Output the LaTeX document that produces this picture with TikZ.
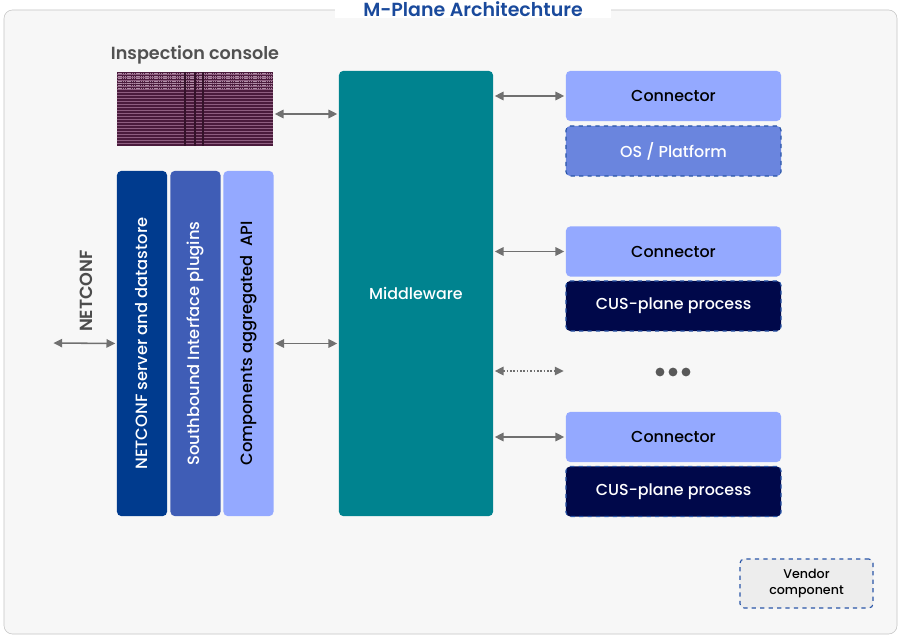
\documentclass[tikz,border=0pt]{standalone}
\usepackage{fontspec}
\setmainfont{Poppins}[UprightFont=* Medium, BoldFont=* SemiBold]
\usetikzlibrary{arrows.meta, positioning, calc}
\definecolor{framegris}{HTML}{F7F7F7}
\definecolor{bordagris}{HTML}{C4C4C4}
\definecolor{titazul}{HTML}{1A4A9C}
\definecolor{ncazul}{HTML}{003B8E}
\definecolor{sbazul}{HTML}{3F5DB6}
\definecolor{clazul}{HTML}{94A9FF}
\definecolor{osazul}{HTML}{6A85DE}
\definecolor{marinho}{HTML}{00084A}
\definecolor{petroleo}{HTML}{00838F}
\definecolor{setagris}{HTML}{707070}
\definecolor{tracoazul}{HTML}{2A56A8}
\definecolor{consroxo}{HTML}{4A1B3C}
\definecolor{linharoxo}{HTML}{8E5E80}

\begin{document}
\begin{tikzpicture}[
    x=0.025cm, y=-0.025cm,
    font=\fontsize{11.3}{13}\selectfont,
    bar/.style={rounded corners=3pt, minimum width=8.625cm, minimum height=1.25cm, text=white, rotate=90, font=\fontsize{11.6}{13}\selectfont},
    rbox/.style={rounded corners=3pt, minimum width=5.375cm, minimum height=1.25cm, align=center},
    vendbox/.style={rbox, draw=tracoazul, dashed, thick},
    dbl/.style={{Triangle[length=2.2mm, width=2.1mm]}-{Triangle[length=2.2mm, width=2.1mm]}, setagris, line width=1.1pt, shorten <=1pt, shorten >=1pt},
]
\useasboundingbox (0,0) rectangle (900,636);

% ── Moldura ─────────────────────────────────────────
\draw[bordagris, fill=framegris, rounded corners=6pt] (4,10) rectangle (897,634);
\node[fill=white, inner xsep=0.7cm, inner ysep=1pt, text=titazul, font=\fontsize{13.5}{15}\selectfont\bfseries] (title) at (473,9) {M-Plane Architechture};

% ── Console de inspeção ─────────────────────────────
\node[font=\fontsize{12.5}{14}\selectfont\bfseries, text=black!68] (constit) at (195,55) {Inspection console};
\node[fill=consroxo, minimum width=3.9cm, minimum height=1.85cm, inner sep=0pt] (cons) at (195,109) {};
\foreach \k in {1,...,24}
  \draw[linharoxo, line width=0.35pt] ($(cons.north west)+(0,-\k*0.075cm)$) -- ($(cons.north east)+(0,-\k*0.075cm)$);
\foreach \k in {0,...,6}
  \draw[linharoxo!70, line width=0.5pt, dash pattern=on 1pt off 0.6pt] ($(cons.north west)+(1pt,-\k*0.06cm-0.05cm)$) -- ($(cons.north east)+(-1pt,-\k*0.06cm-0.05cm)$);
\foreach \xx in {185,195,203}
  \draw[consroxo!70!black, line width=1.2pt] (\xx,72) -- (\xx,146);

% ── Pilha NETCONF ───────────────────────────────────
\node[bar, fill=ncazul] (ncsrv) at (142,343.5) {NETCONF server and datastore};
\node[bar, fill=sbazul] (sbplug) at (195.5,343.5) {Southbound Interface plugins};
\node[bar, fill=clazul, text=black] (capi) at (248.5,343.5) {Components aggregated\enspace API};

\coordinate (ncext) at (52,343);
\node[rotate=90, font=\fontsize{12.5}{14}\selectfont\bfseries, text=black!70] (nclab) at (86,291) {NETCONF};

% ── Middleware ──────────────────────────────────────
\node[fill=petroleo, rounded corners=3pt, minimum width=3.85cm, minimum height=11.125cm, text=white] (mw) at (416,293.5) {Middleware};

% ── Componentes ─────────────────────────────────────
\node[rbox, fill=clazul] (conn1) at (673.5,96) {Connector};
\node[vendbox, fill=osazul, text=white] (osplat) at (673.5,151) {OS / Platform};
\node[rbox, fill=clazul] (conn2) at (673.5,251.5) {Connector};
\node[vendbox, fill=marinho, text=white] (cus1) at (673.5,306) {CUS-plane process};
\node[rbox, fill=clazul] (conn3) at (673.5,437) {Connector};
\node[vendbox, fill=marinho, text=white] (cus2) at (673.5,491.5) {CUS-plane process};

\coordinate (more) at (565,371);
\foreach \xx in {660,673,686}
  \fill[black!65] (\xx,372) circle (0.11cm);

% Legenda
\node[vendbox, fill=black!7, minimum width=3.325cm, minimum height=1.225cm, font=\fontsize{9}{11}\selectfont] (vend) at (806.5,583.5) {Vendor\\component};

% ── Setas ───────────────────────────────────────────
\draw[dbl] (ncext) -- (ncsrv.north);
\draw[dbl] ([yshift=-0.125cm]cons.east) -- ([yshift=-0.125cm]cons.east -| mw.west);
\draw[dbl] (capi.south) -- (capi.south -| mw.west);
\draw[dbl] (mw.east |- conn1.west) -- (conn1.west);
\draw[dbl] (mw.east |- conn2.west) -- (conn2.west);
\draw[dbl, dash pattern=on 1.2pt off 1.2pt] (mw.east |- more) -- (more);
\draw[dbl] (mw.east |- conn3.west) -- (conn3.west);

\end{tikzpicture}
\end{document}
